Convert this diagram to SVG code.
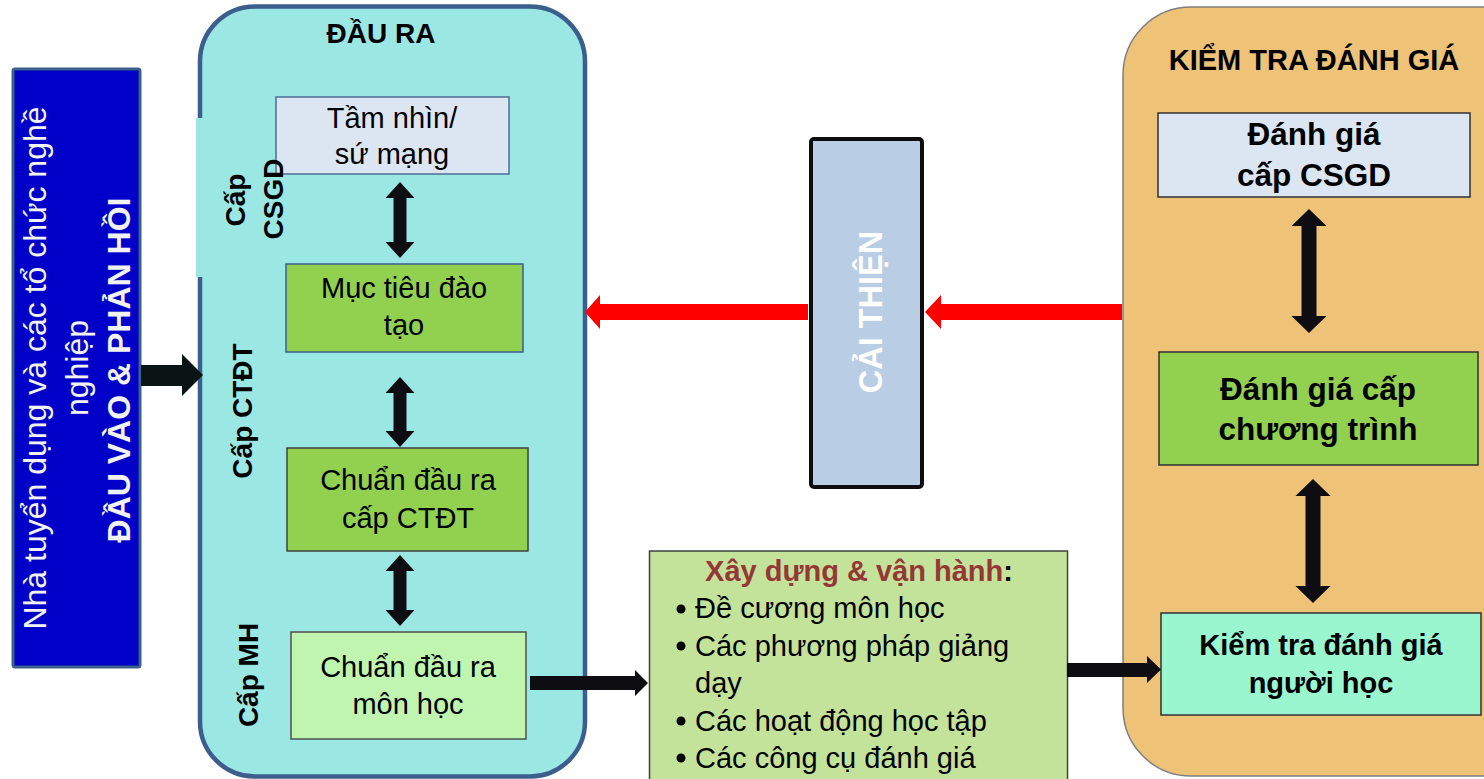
<svg xmlns="http://www.w3.org/2000/svg" width="1484" height="779" viewBox="0 0 1484 779">
<style>
text{font-family:"Liberation Sans",Arial,sans-serif;fill:#000}
.b{font-weight:bold}
.t29{font-size:29px}
.t28{font-size:28px}
.c{text-anchor:middle}
.arr{fill:#0E0D12}
.red{fill:#FF0000}
.box{stroke-width:1.5}
</style>
<rect width="1484" height="779" fill="#FFFFFF"/>

<g id="input-box">
<rect x="13" y="69" width="127" height="598" rx="2" fill="#0000C8" stroke="#3D5F8C" stroke-width="3"/>
<text transform="translate(46,368) rotate(-90)" class="c" style="font-size:32px;fill:#F2F2F2">Nhà tuyển dụng và các tổ chức nghề</text>
<text transform="translate(88,368) rotate(-90)" class="c" style="font-size:32px;fill:#F2F2F2">nghiệp</text>
<text transform="translate(130,370) rotate(-90)" class="c b" style="font-size:32px;fill:#F2F2F2">ĐẦU VÀO &amp; PHẢN HỒI</text>
</g>

<g id="output-container">
<rect x="200" y="6.5" width="385" height="770" rx="55" fill="#9BE7E3" stroke="#3B5E8C" stroke-width="4.5"/>
<rect x="196" y="118" width="78" height="159" fill="#9BE7E3"/>
<text x="381" y="43" class="c b t28">ĐẦU RA</text>
</g>

<g id="vision">
<rect x="276" y="97" width="233" height="77" fill="#DCE6F2" stroke="#4F6D96" class="box"/>
<text x="392" y="128" class="c t29">Tầm nhìn/</text>
<text x="392" y="164" class="c t29">sứ mạng</text>
</g>

<g id="label-csgd">
<text transform="translate(245,200) rotate(-90)" class="c b t28">Cấp</text>
<text transform="translate(283,199) rotate(-90)" class="c b t28">CSGD</text>
</g>

<g id="objectives">
<rect x="286" y="264" width="237" height="88" fill="#92D050" stroke="#3B5E8C" class="box"/>
<text x="404" y="298" class="c t29">Mục tiêu đào</text>
<text x="404" y="335" class="c t29">tạo</text>
</g>

<g id="label-ctdt">
<text transform="translate(252,411) rotate(-90)" class="c b t28">Cấp CTĐT</text>
</g>

<g id="plo">
<rect x="287" y="448" width="241" height="103" fill="#92D050" stroke="#404040" class="box"/>
<text x="408" y="490" class="c t29">Chuẩn đầu ra</text>
<text x="408" y="528" class="c t29">cấp CTĐT</text>
</g>

<g id="label-mh">
<text transform="translate(258,675) rotate(-90)" class="c b t28">Cấp MH</text>
</g>

<g id="clo">
<rect x="291" y="632" width="235" height="107" fill="#C0F5B0" stroke="#505050" class="box"/>
<text x="408" y="677" class="c t29">Chuẩn đầu ra</text>
<text x="408" y="714" class="c t29">môn học</text>
</g>

<g id="improve">
<rect x="811" y="139" width="111" height="348" rx="3" fill="#B9CDE5" stroke="#0D0D10" stroke-width="4"/>
<text transform="translate(882,312) rotate(-90)" class="c b" style="font-size:32.5px;fill:#FFFFFF">CẢI THIỆN</text>
</g>

<g id="build">
<rect x="649.5" y="551" width="418" height="240" fill="#C3E29A" stroke="#404040" class="box"/>
<text x="859" y="581" class="c b t29"><tspan fill="#953735">Xây dựng &amp; vận hành</tspan>:</text>
<circle cx="681" cy="609" r="4.5" fill="#000"/>
<text x="695" y="618" class="t29">Đề cương môn học</text>
<circle cx="681" cy="646" r="4.5" fill="#000"/>
<text x="695" y="656" class="t29">Các phương pháp giảng</text>
<text x="695" y="693" class="t29">dạy</text>
<circle cx="681" cy="721" r="4.5" fill="#000"/>
<text x="695" y="731" class="t29">Các hoạt động học tập</text>
<circle cx="681" cy="758" r="4.5" fill="#000"/>
<text x="695" y="768" class="t29">Các công cụ đánh giá</text>
</g>

<g id="assessment-container">
<rect x="1123" y="7" width="440" height="769" rx="68" fill="#EEC378" stroke="#7F7F7F" stroke-width="1.5"/>
<text x="1314" y="70" class="c b" style="font-size:29px">KIỂM TRA ĐÁNH GIÁ</text>
</g>

<g id="eval-csgd">
<rect x="1158" y="113" width="312" height="84" fill="#DCE6F2" stroke="#303030" class="box"/>
<text x="1314" y="145" class="c b" style="font-size:31.5px">Đánh giá</text>
<text x="1314" y="186" class="c b" style="font-size:31.5px">cấp CSGD</text>
</g>

<g id="eval-program">
<rect x="1159" y="352" width="319" height="113" fill="#92D050" stroke="#303030" class="box"/>
<text x="1318" y="400" class="c b" style="font-size:31.5px">Đánh giá cấp</text>
<text x="1318" y="440" class="c b" style="font-size:31.5px">chương trình</text>
</g>

<g id="eval-learner">
<rect x="1161" y="613" width="320" height="102" fill="#99F6CE" stroke="#303030" class="box"/>
<text x="1321" y="655" class="c b" style="font-size:29px">Kiểm tra đánh giá</text>
<text x="1321" y="693" class="c b" style="font-size:29px">người học</text>
</g>

<g id="connectors">
<path class="arr" d="M400 182 L414.5 198 L406.5 198 L406.5 242 L414.5 242 L400 258 L385.5 242 L393.5 242 L393.5 198 L385.5 198 Z"/>
<path class="arr" d="M400 377 L414.5 393 L406.5 393 L406.5 431 L414.5 431 L400 447 L385.5 431 L393.5 431 L393.5 393 L385.5 393 Z"/>
<path class="arr" d="M400 555 L414.5 571 L406.5 571 L406.5 610 L414.5 610 L400 626 L385.5 610 L393.5 610 L393.5 571 L385.5 571 Z"/>
<path class="arr" d="M1309 209 L1326.5 226 L1316.5 226 L1316.5 316 L1326.5 316 L1309 333 L1291.5 316 L1301.5 316 L1301.5 226 L1291.5 226 Z"/>
<path class="arr" d="M1313 479 L1330.5 496 L1320.5 496 L1320.5 586 L1330.5 586 L1313 603 L1295.5 586 L1305.5 586 L1305.5 496 L1295.5 496 Z"/>
<path fill="#0A1414" d="M141 365 L182 365 L182 354 L203 375 L182 396 L182 386 L141 386 Z"/>
<path class="arr" d="M530 676 L635 676 L635 670 L648 683 L635 696 L635 690 L530 690 Z"/>
<path class="arr" d="M1067 663 L1147 663 L1147 656 L1161 669.5 L1147 683 L1147 677 L1067 677 Z"/>
<path class="red" d="M808 304 L600 304 L600 295 L585 312 L600 329 L600 320 L808 320 Z"/>
<path class="red" d="M1122 304 L941 304 L941 295 L925 312 L941 329 L941 320 L1122 320 Z"/>
</g>
</svg>
